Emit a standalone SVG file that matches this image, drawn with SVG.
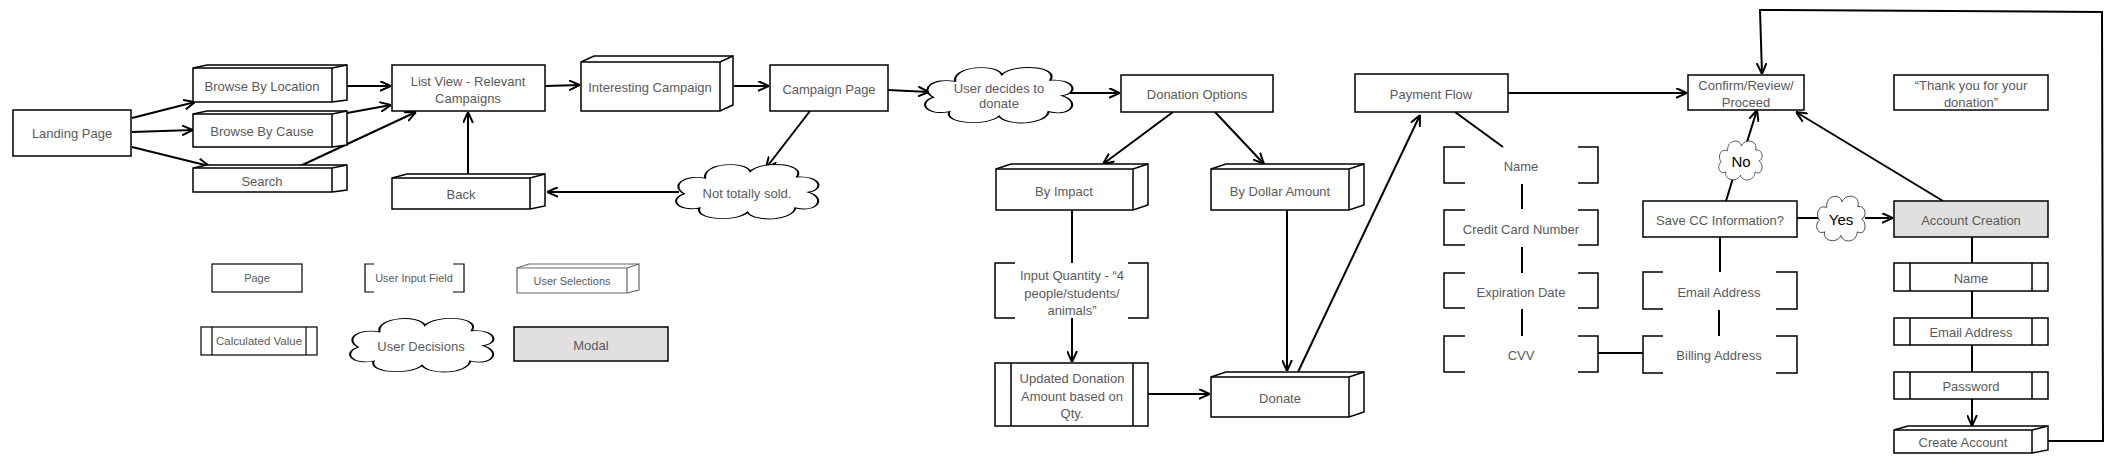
<svg xmlns="http://www.w3.org/2000/svg" xmlns:xlink="http://www.w3.org/1999/xlink" width="2114" height="467" viewBox="0 0 2114 467">
<style>
.n{fill:#fff;stroke:#000;stroke-width:1.5}
.nl{fill:#fff;stroke:#000;stroke-width:1.2}
.g{fill:#e0e0e0;stroke:#000;stroke-width:1.5}
.b{fill:none;stroke:#000;stroke-width:1.5}
.cl{fill:#fff;stroke:#000;stroke-width:1.5;vector-effect:non-scaling-stroke}
.c{fill:none;stroke:#000;stroke-width:2}
.t{font-family:"Liberation Sans",Arial,sans-serif;font-size:13px;fill:#5a5a5a;text-anchor:middle;dominant-baseline:central}
.s{font-size:11px}
.k{font-size:13px}
.y{font-family:"Liberation Sans",Arial,sans-serif;font-size:15px;fill:#000;text-anchor:middle;dominant-baseline:central}
</style>
<defs>
<marker id="a" viewBox="0 0 10 10" refX="10" refY="5" markerWidth="11" markerHeight="11" orient="auto" markerUnits="userSpaceOnUse">
<path d="M0,0.5 L10,5 L0,9.5" fill="none" stroke="#000" stroke-width="1.8"/>
</marker>
<path id="cloud" d="M5,55 C-5,40 5,20 20,27 C18,0 48,-5 52,15 C60,-5 92,0 85,25 C102,22 105,48 93,52 C106,62 100,90 84,80 C82,104 55,106 50,88 C42,106 12,102 16,80 C0,88 -6,64 5,55 Z"/>
</defs>

<g id="connectors">
<path class="c" marker-end="url(#a)" d="M132,118 L195,102"/>
<path class="c" marker-end="url(#a)" d="M132,132 L193,130"/>
<path class="c" marker-end="url(#a)" d="M132,147 L209,166"/>
<path class="c" marker-end="url(#a)" d="M347,86 L391,86"/>
<path class="c" marker-end="url(#a)" d="M347,113 L391,105"/>
<path class="c" marker-end="url(#a)" d="M298,167 L416,112"/>
<path class="c" marker-end="url(#a)" d="M468,175 L468,112"/>
<path class="c" marker-end="url(#a)" d="M545,86 L580,85"/>
<path class="c" marker-end="url(#a)" d="M734,86 L769,86"/>
<path class="c" marker-end="url(#a)" d="M888,90 L929,92"/>
<path class="c" marker-end="url(#a)" d="M810,111 L766,168"/>
<path class="c" marker-end="url(#a)" d="M679,192 L547,192"/>
<path class="c" marker-end="url(#a)" d="M1070,93 L1120,93"/>
<path class="c" marker-end="url(#a)" d="M1173,112 L1103,164"/>
<path class="c" marker-end="url(#a)" d="M1215,112 L1264,164"/>
<path class="c" d="M1072,210 L1072,263"/>
<path class="c" marker-end="url(#a)" d="M1072,318 L1072,362"/>
<path class="c" marker-end="url(#a)" d="M1146,394 L1210,394"/>
<path class="c" marker-end="url(#a)" d="M1287,210 L1287,371"/>
<path class="c" marker-end="url(#a)" d="M1298,372 L1420,115"/>
<path class="c" marker-end="url(#a)" d="M1508,93 L1687,93"/>
<path class="c" d="M1455,112 L1503,147"/>
<path class="c" d="M1522,184 L1522,209"/>
<path class="c" d="M1522,247 L1522,273"/>
<path class="c" d="M1522,309 L1522,336"/>
<path class="c" d="M1598,353 L1643,353"/>
<path class="c" d="M1719,310 L1719,336"/>
<path class="c" d="M1720,237 L1720,272"/>
<path class="c" d="M1726,201 L1733,178"/>
<path class="c" marker-end="url(#a)" d="M1747,142 L1757,110"/>
<path class="c" d="M1797,218 L1819,218"/>
<path class="c" marker-end="url(#a)" d="M1865,218 L1893,218"/>
<path class="c" marker-end="url(#a)" d="M1943,201 L1796,112"/>
<path class="c" d="M1972,237 L1972,263"/>
<path class="c" d="M1972,291 L1972,318"/>
<path class="c" d="M1972,345 L1972,372"/>
<path class="c" marker-end="url(#a)" d="M1972,399 L1972,426"/>
<path class="c" marker-end="url(#a)" d="M2048,441 L2103,441 L2102,12 L1760,10 L1762,74"/>
</g>

<g id="landing-page"><rect class="n" x="13" y="110" width="118" height="46"/><text class="t" x="72" y="133">Landing Page</text></g>

<g id="browse-location"><path class="n" d="M193,68 L207,65 L347,65 L347,100 L332,102 L193,102 Z"/><path class="b" d="M193,68 L332,68 L347,65 M332,68 L332,102"/><text class="t" x="262" y="86">Browse By Location</text></g>
<g id="browse-cause"><path class="n" d="M193,114 L207,111 L347,111 L347,145 L332,147 L193,147 Z"/><path class="b" d="M193,114 L332,114 L347,111 M332,114 L332,147"/><text class="t" x="262" y="131">Browse By Cause</text></g>
<g id="search"><path class="n" d="M193,168 L207,165 L347,165 L347,190 L332,192 L193,192 Z"/><path class="b" d="M193,168 L332,168 L347,165 M332,168 L332,192"/><text class="t" x="262" y="181">Search</text></g>

<g id="list-view"><rect class="n" x="392" y="65" width="153" height="46"/><text class="t" x="468" y="81">List View - Relevant</text><text class="t" x="468" y="98">Campaigns</text></g>
<g id="back"><path class="n" d="M392,178 L407,174 L545,174 L545,206 L530,209 L392,209 Z"/><path class="b" d="M392,178 L530,178 L545,174 M530,178 L530,209"/><text class="t" x="461" y="194">Back</text></g>

<g id="interesting-campaign"><path class="n" d="M581,62 L594,56 L733,56 L733,105 L720,111 L581,111 Z"/><path class="b" d="M581,62 L720,62 L733,56 M720,62 L720,111"/><text class="t" x="650" y="87">Interesting Campaign</text></g>
<g id="campaign-page"><rect class="n" x="770" y="65" width="118" height="46"/><text class="t" x="829" y="89">Campaign Page</text></g>

<g id="user-decides"><use href="#cloud" class="cl" transform="translate(926,66) scale(1.46,0.57)"/><text class="t" x="999" y="88">User decides to</text><text class="t" x="999" y="103">donate</text></g>
<g id="not-sold"><use href="#cloud" class="cl" transform="translate(677,163) scale(1.41,0.56)"/><text class="t" x="747" y="193">Not totally sold.</text></g>

<g id="donation-options"><rect class="n" x="1121" y="75" width="152" height="37"/><text class="t" x="1197" y="94">Donation Options</text></g>
<g id="by-impact"><path class="n" d="M996,169 L1011,164 L1148,164 L1148,205 L1133,210 L996,210 Z"/><path class="b" d="M996,169 L1133,169 L1148,164 M1133,169 L1133,210"/><text class="t" x="1064" y="191">By Impact</text></g>
<g id="by-dollar"><path class="n" d="M1211,169 L1226,164 L1364,164 L1364,205 L1349,210 L1211,210 Z"/><path class="b" d="M1211,169 L1349,169 L1364,164 M1349,169 L1349,210"/><text class="t" x="1280" y="191">By Dollar Amount</text></g>
<g id="input-quantity"><path class="b" d="M1015,263 L995,263 L995,318 L1015,318 M1128,263 L1148,263 L1148,318 L1128,318"/><text class="t" x="1072" y="275">Input Quantity - “4</text><text class="t" x="1072" y="293">people/students/</text><text class="t" x="1072" y="310">animals”</text></g>
<g id="updated-donation"><rect class="n" x="995" y="363" width="153" height="63"/><path class="b" d="M1011,363 L1011,426 M1133,363 L1133,426"/><text class="t" x="1072" y="378">Updated Donation</text><text class="t" x="1072" y="396">Amount based on</text><text class="t" x="1072" y="413">Qty.</text></g>
<g id="donate"><path class="n" d="M1211,377 L1226,372 L1364,372 L1364,412 L1349,417 L1211,417 Z"/><path class="b" d="M1211,377 L1349,377 L1364,372 M1349,377 L1349,417"/><text class="t" x="1280" y="398">Donate</text></g>

<g id="payment-flow"><rect class="n" x="1355" y="74" width="153" height="38"/><text class="t" x="1431" y="94">Payment Flow</text></g>
<g id="pf-name"><path class="b" d="M1465,147 L1444,147 L1444,183 L1465,183 M1578,147 L1598,147 L1598,183 L1578,183"/><text class="t" x="1521" y="166">Name</text></g>
<g id="pf-cc"><path class="b" d="M1465,210 L1444,210 L1444,245 L1465,245 M1578,210 L1598,210 L1598,245 L1578,245"/><text class="t" x="1521" y="229">Credit Card Number</text></g>
<g id="pf-exp"><path class="b" d="M1465,273 L1444,273 L1444,308 L1465,308 M1578,273 L1598,273 L1598,308 L1578,308"/><text class="t" x="1521" y="292">Expiration Date</text></g>
<g id="pf-cvv"><path class="b" d="M1465,336 L1444,336 L1444,372 L1465,372 M1578,336 L1598,336 L1598,372 L1578,372"/><text class="t" x="1521" y="355">CVV</text></g>

<g id="confirm"><rect class="n" x="1688" y="75" width="116" height="35"/><text class="t" x="1746" y="85">Confirm/Review/</text><text class="t" x="1746" y="102">Proceed</text></g>
<g id="thank-you"><rect class="n" x="1894" y="75" width="154" height="35"/><text class="t" x="1971" y="85">“Thank you for your</text><text class="t" x="1971" y="102">donation”</text></g>
<g id="save-cc"><rect class="n" x="1643" y="201" width="154" height="36"/><text class="t" x="1720" y="220">Save CC Information?</text></g>
<g id="no"><use href="#cloud" class="cl" transform="translate(1719,140) scale(0.43,0.4)"/><text class="y" x="1741" y="161">No</text></g>
<g id="yes"><use href="#cloud" class="cl" transform="translate(1817,195) scale(0.48,0.46)"/><text class="y" x="1841" y="219">Yes</text></g>
<g id="account-creation"><rect class="g" x="1894" y="201" width="154" height="36"/><text class="t" x="1971" y="220">Account Creation</text></g>
<g id="sc-email"><path class="b" d="M1663,272 L1643,272 L1643,309 L1663,309 M1776,272 L1797,272 L1797,309 L1776,309"/><text class="t" x="1719" y="292">Email Address</text></g>
<g id="sc-billing"><path class="b" d="M1663,336 L1643,336 L1643,373 L1663,373 M1776,336 L1797,336 L1797,373 L1776,373"/><text class="t" x="1719" y="355">Billing Address</text></g>
<g id="ac-name"><rect class="n" x="1894" y="263" width="154" height="28"/><path class="b" d="M1910,263 L1910,291 M2032,263 L2032,291"/><text class="t" x="1971" y="278">Name</text></g>
<g id="ac-email"><rect class="n" x="1894" y="318" width="154" height="27"/><path class="b" d="M1910,318 L1910,345 M2032,318 L2032,345"/><text class="t" x="1971" y="332">Email Address</text></g>
<g id="ac-password"><rect class="n" x="1894" y="372" width="154" height="27"/><path class="b" d="M1910,372 L1910,399 M2032,372 L2032,399"/><text class="t" x="1971" y="386">Password</text></g>
<g id="create-account"><path class="n" d="M1894,430 L1908,426 L2048,426 L2048,450 L2032,453 L1894,453 Z"/><path class="b" d="M1894,430 L2032,430 L2048,426 M2032,430 L2032,453"/><text class="t" x="1963" y="442">Create Account</text></g>

<g id="legend-page"><rect class="nl" x="212" y="264" width="90" height="28"/><text class="t s" x="257" y="278">Page</text></g>
<g id="legend-input"><path class="b" style="stroke-width:1.2" d="M374,264 L365,264 L365,292 L374,292 M453,264 L464,264 L464,292 L453,292"/><text class="t s" x="414" y="278">User Input Field</text></g>
<g id="legend-selections"><path class="nl" style="stroke:#666" d="M517,268 L529,264 L639,264 L639,290 L627,293 L517,293 Z"/><path class="b" style="stroke:#666;stroke-width:1.2" d="M517,268 L627,268 L639,264 M627,268 L627,293"/><text class="t s" x="572" y="281">User Selections</text></g>
<g id="legend-calc"><rect class="nl" x="201" y="327" width="116" height="28"/><path class="b" style="stroke-width:1.2" d="M212,327 L212,355 M306,327 L306,355"/><text class="t" style="font-size:11.5px" x="259" y="341">Calculated Value</text></g>
<g id="legend-decisions"><use href="#cloud" class="cl" transform="translate(351,317) scale(1.42,0.55)"/><text class="t k" x="421" y="346">User Decisions</text></g>
<g id="legend-modal"><rect class="g" x="514" y="327" width="154" height="34"/><text class="t k" x="591" y="345">Modal</text></g>
</svg>
